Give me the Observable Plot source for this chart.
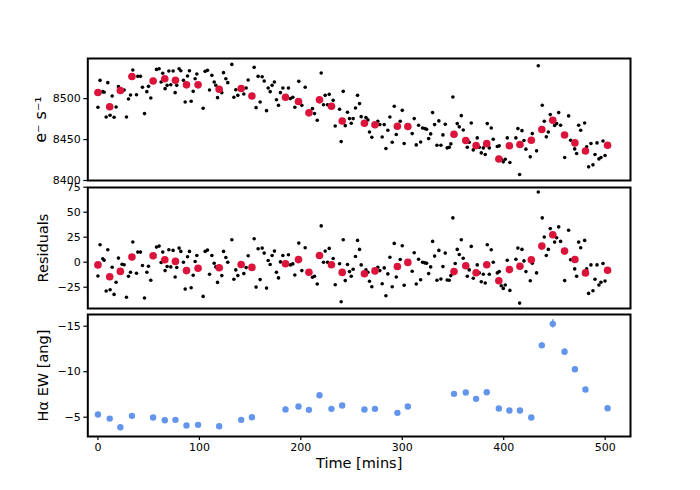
<!DOCTYPE html>
<html>
<head>
<meta charset="utf-8">
<script src="https://cdn.jsdelivr.net/npm/d3@7"></script>
<script src="https://cdn.jsdelivr.net/npm/@observablehq/plot@0.6"></script>
<style>
  html, body { margin: 0; padding: 0; background: #fff; }
  #chart { position: relative; width: 700px; height: 490px; background: #fff; }
  #chart svg { position: absolute; left: 0; overflow: visible; }
</style>
</head>
<body>
<div id="chart"></div>
<script>
// ---------- photometry (black points) ----------
const tBlack = [0,2.1,4.8,6.1,8.1,9.7,12,14,15.9,17.9,20.2,23.8,25.8,28.1,30.1,32.1,34.4,38,39.3,41.9,43.9,45.9,48.2,49.8,52.1,57.7,60.3,62.3,63.9,66.2,68.2,69.9,71.8,74.1,76.1,77.7,80,81.7,84.3,86,88.3,90.2,91.9,93.9,95.8,97.5,
103.7,105.7,108,110,112.3,114.6,116.2,117.9,122.1,123.8,126.1,128,132,134,135.9,137.9,143.8,146.1,148.1,154,155.9,157.9,159.9,161.9,163.9,166.2,167.8,169.8,171.7,174,176,178,179.9,182.3,187.8,189.8,192.1,194.1,198,201,204.3,
211.5,213.5,216.2,220.1,222.4,224,226.3,228,231.9,233.9,238.2,239.8,241.8,243.8,246,248,249.7,251.6,253.9,255.9,257.9,259.5,264.2,266.1,267.7,270,275.9,277.9,280.2,282.2,283.9,285.8,287.8,290.1,292.1,294.1,298,300,301.9,309.8,311.8,313.8,
316.1,318.1,320,322.3,324,326,328,329.9,331.9,334.2,336.1,338.1,340.1,342.4,344.3,346.3,347.9,349.9,352.2,354.2,356.2,358.2,360.1,364.1,366,368,370,373.9,375.9,377.9,379.9,381.8,383.8,385.8,387.7,389.7,393.7,395.6,397.6,399.6,401.5,403.5,406.1,412,414,415.7,418,420,421.9,
426.2,428.2,432.4,434.1,438,440,442,444,445.9,450.2,452.2,454.2,456.1,460.1,464,466,470,471.9,473.9,475.9,479.8,481.8,483.7,486,488,490,492,493.9,495.9,497.9,499.9];

const fluxBlack = [8489.4,8522.3,8508.5,8507.7,8477.6,8519.5,8479.6,8503.2,8477.2,8489.8,8514.6,8508.9,8510.5,8477.6,8499.6,8504.4,8534.9,8504.8,8527.2,8527.2,8513.8,8481.7,8508.5,8515,8500.8,8535.7,8536.5,8520.3,8530.9,8512.2,8516.2,8533.7,8517,8533.7,8507.3,8516.2,8536.5,8534.1,8522.3,8495.9,8527.6,8534.1,8496.7,8508.9,8524.3,8530,
8488.2,8533.3,8534.5,8510.5,8528.4,8520.3,8516.2,8501.2,8507.3,8531.7,8524.3,8519.5,8541.8,8501.6,8510.9,8504,8505.7,8513,8522.7,8538.2,8489,8527.2,8495.9,8526.8,8521.5,8485.3,8513,8508.5,8516.2,8520.3,8498.7,8491.8,8507.3,8513,8513,8500,8501.6,8489.4,8521.1,8491.8,8513.8,
8487.8,8481.7,8473.6,8531.3,8492.6,8504,8492.6,8505.2,8497.9,8466.6,8487,8447.5,8508.9,8467,8483.3,8475.6,8469.9,8475.6,8488.6,8504,8493.9,8478,8476.8,8474,8459.3,8452.8,8472.3,8468.3,8453.2,8468.3,8439,8461.4,8477.6,8446.7,8490.6,8456.1,8472.3,8485.7,8445.1,8457.3,8475.6,8443.5,
8467.5,8447.1,8464.2,8463.4,8462.6,8451.2,8456.9,8482.9,8468.3,8443.1,8472.8,8443.1,8455.7,8468.7,8439.8,8440.6,8444.7,8502,8455.3,8469.5,8465.5,8479.2,8461.7,8440.6,8446.7,8470.3,8437.4,8452,8440.6,8433.7,8439.8,8431.7,8469.5,8439.8,8464.2,8450.4,8441.5,8442.3,8426,8422.8,8426,8452,8422,8452,8463.4,8407.3,8460.9,8448.8,8438.3,
8428.9,8457.3,8436.2,8540.2,8491.9,8472.3,8453.3,8459.3,8480.5,8467.1,8469.5,8482.9,8467.5,8428.1,8478.9,8449.2,8438.6,8432.9,8467.5,8461.4,8470.3,8441.1,8416.7,8445.1,8419.1,8431.7,8445.9,8426.4,8428,8448.3,8430.5];

const residBlack = [-13.8,17.5,3.4,2.0,-28.8,12.5,-27.5,-5,-32.2,-20,4.1,-2,-2.6,-35.1,-14.1,-10.1,20.2,-11.1,10.1,10.1,-3.3,-35.8,-10.1,-4,-18.1,15.1,16.1,-0.3,10.1,-8.4,-4.3,12.5,-4.7,11.8,-14.8,-5.3,14.1,10.8,0,-26.9,5.4,10.8,-25.5,-13.1,0.7,6.7,
-34.2,10.8,12.1,-12.1,6.7,-1,-4.7,-20.2,-13.4,10.8,4.7,0,22.5,-17.1,-7.7,-13.4,-11.4,-5.4,6.4,23.5,-24.9,13.5,-17.4,14.1,9.1,-25.9,1.7,-2.3,6.7,11.1,-10.1,-15.7,0.3,6.7,7.4,-2.7,-1.7,-12.8,19.1,-8.4,14.4,
-15.1,-14.1,-21.8,36.3,0,11.1,0,13.8,3.7,-22.5,-1.6,-39.5,22.5,-18.4,-2.3,-9.4,-14.1,-7.1,5.7,21.8,12.8,-2.7,-7.7,-10.1,-19.1,-24.5,-5,-8.4,-21.5,-5.7,-33.6,-11.7,5,-24.5,18.8,-14.8,2.7,16.4,-23.1,-9.1,9.4,-21.8,
3,-17.5,0,-0.7,-1,-11.4,-4.7,20.8,6.1,-18.1,11.8,-16.8,-4.4,9.1,-17.8,-18.1,-13.4,44.3,-1.3,12.8,7.7,22.5,4,-14.1,-7.7,15.8,-16.1,-2.7,-10.7,-19.5,-12.1,-20.8,17.5,-12.1,12.4,0,-10.7,-9.4,-23.5,-26.2,-22.8,2,-28.2,3,14.1,-40.9,12.8,1.3,-9.4,
-18.5,-1,-10.7,70.2,44.3,25.2,6.7,12.8,33.6,20.1,24.5,35.3,20.8,-18.4,31.9,2.4,-6.7,-14.1,20.1,14.4,21.8,-6.7,-31.2,-2.7,-28.5,-17.1,-2.7,-22.8,-20.1,-1.3,-18.8];

// ---------- spectra epochs (red binned points and Hα EW) ----------
const tSpec = [0,11.6,22.1,33.5,54.4,65.9,76.4,87.3,98.7,119.5,141.2,151.8,184.9,197.7,208,218.4,230.2,240.8,262.7,273.1,295.2,305.5,351,362.6,372.8,383.3,395.2,405.6,416,427.2,437.6,448.4,460,470.2,480.6,502.4];
const fluxBin = [8507.5,8490,8510,8527,8521.5,8524.3,8522.3,8516.8,8516.8,8511.5,8512.4,8503.2,8501.6,8496.5,8482.6,8498.5,8490.6,8472.7,8469.9,8468,8466.2,8465.9,8456.5,8448.8,8442.6,8445,8426.3,8442.4,8443.9,8449.1,8462.2,8473.5,8455.6,8445.9,8436.1,8443];
const residBin = [-2.7,-14.5,-9.2,5.2,6.5,2.4,0.8,-8.4,-6,-5.5,-2.3,-5.2,-1.5,2.6,-10,6.7,-2.6,-10.2,-11.5,-8.7,-4.3,-0.2,-9.4,-3.5,-10.6,-2.5,-18.6,-7.4,-4,2.4,16.1,27.5,11.1,2.7,-10.7,-8.1];
const ewSpec = [-5.3,-4.85,-3.9,-5.15,-4.97,-4.67,-4.71,-4.09,-4.16,-4.01,-4.71,-5.0,-5.85,-6.18,-5.81,-7.42,-5.92,-6.29,-5.85,-5.92,-5.48,-6.18,-7.57,-7.71,-7.02,-7.75,-5.96,-5.74,-5.74,-4.97,-12.9,-15.26,-12.19,-10.27,-8.04,-5.99];
const ewErr = [0.15,0.15,0.15,0.15,0.15,0.15,0.15,0.15,0.15,0.15,0.15,0.15,0.3,0.2,0.15,0.2,0.15,0.15,0.15,0.15,0.15,0.15,0.2,0.2,0.2,0.2,0.15,0.15,0.15,0.15,0.3,0.45,0.35,0.25,0.2,0.2];

// ---------- ticks and labels ----------
const ticksFlux = [8400, 8450, 8500];
const ticksResid = [-25, 0, 25, 50, 75];
const ticksEW = [-15, -10, -5];
const ticksTime = [0, 100, 200, 300, 400, 500];
const labelFlux = "e\u207B s\u207B\u00B9";
const labelResid = "Residuals";
const labelEW = "H\u03B1 EW [ang]";
const labelTime = "Time [mins]";

const black = tBlack.map((t, i) => ({t, flux: fluxBlack[i], resid: residBlack[i]}));
const spec = tSpec.map((t, i) => ({t, flux: fluxBin[i], resid: residBin[i], ew: ewSpec[i], err: ewErr[i]}));

const RED = "#dc143c";
const BLUE = "#6495ed";
const FONT = "DejaVu Sans";
const xDomain = [-10, 525];
const fmt = d => (d < 0 ? "\u2212" + Math.abs(d) : String(d));
const common = {
  width: 700,
  marginLeft: 87.3,
  marginRight: 70,
  style: {fontFamily: FONT, fontSize: "11px", background: "transparent", color: "black"}
};

function yAxis(ticks) {
  return Plot.axisY({ticks, tickFormat: fmt, tickSize: 4, tickPadding: 3, fontSize: 11, label: null, strokeWidth: 1.2});
}
function yLabel(text, dx, size = 14.5) {
  return Plot.text([text], {frameAnchor: "left", dx, rotate: -90, fontSize: size, textAnchor: "middle", fill: "black"});
}

const container = document.getElementById("chart");

// top panel: flux
const panelFlux = Plot.plot({
  ...common,
  height: 140, marginTop: 10, marginBottom: 8,
  x: {domain: xDomain, axis: null},
  y: {domain: [8400, 8549]},
  marks: [
    yAxis(ticksFlux),
    Plot.dot(black, {x: "t", y: "flux", r: 1.8, fill: "black", stroke: "none"}),
    Plot.dot(spec, {x: "t", y: "flux", r: 3.8, fill: RED, stroke: "none"}),
    Plot.frame({stroke: "black", strokeWidth: 2}),
    yLabel(labelFlux, -47, 16)
  ]
});
panelFlux.style.top = "48px";
container.appendChild(panelFlux);

// middle panel: residuals
const panelResid = Plot.plot({
  ...common,
  height: 141, marginTop: 10, marginBottom: 10,
  x: {domain: xDomain, axis: null},
  y: {domain: [-46.3, 74.7]},
  marks: [
    yAxis(ticksResid),
    Plot.dot(black, {x: "t", y: "resid", r: 1.8, fill: "black", stroke: "none"}),
    Plot.dot(spec, {x: "t", y: "resid", r: 3.8, fill: RED, stroke: "none"}),
    Plot.frame({stroke: "black", strokeWidth: 2}),
    yLabel(labelResid, -44)
  ]
});
panelResid.style.top = "177px";
container.appendChild(panelResid);

// bottom panel: Hα EW (inverted)
const panelEW = Plot.plot({
  ...common,
  height: 186, marginTop: 10, marginBottom: 54,
  x: {domain: xDomain},
  y: {domain: [-2.88, -16.29]},
  marks: [
    yAxis(ticksEW),
    Plot.axisX({ticks: ticksTime, tickFormat: fmt, tickSize: 4, tickPadding: 3, fontSize: 11, label: null, strokeWidth: 1.2}),
    Plot.ruleX(spec, {x: "t", y1: d => d.ew - d.err, y2: d => d.ew + d.err, stroke: BLUE, strokeWidth: 1.5}),
    Plot.dot(spec, {x: "t", y: "ew", r: 3.2, fill: BLUE, stroke: "none"}),
    Plot.frame({stroke: "black", strokeWidth: 2}),
    yLabel(labelEW, -44),
    Plot.text([labelTime], {frameAnchor: "bottom", dy: 31, fontSize: 14.5, textAnchor: "middle", fill: "black"})
  ]
});
panelEW.style.top = "304px";
container.appendChild(panelEW);
</script>
</body>
</html>
